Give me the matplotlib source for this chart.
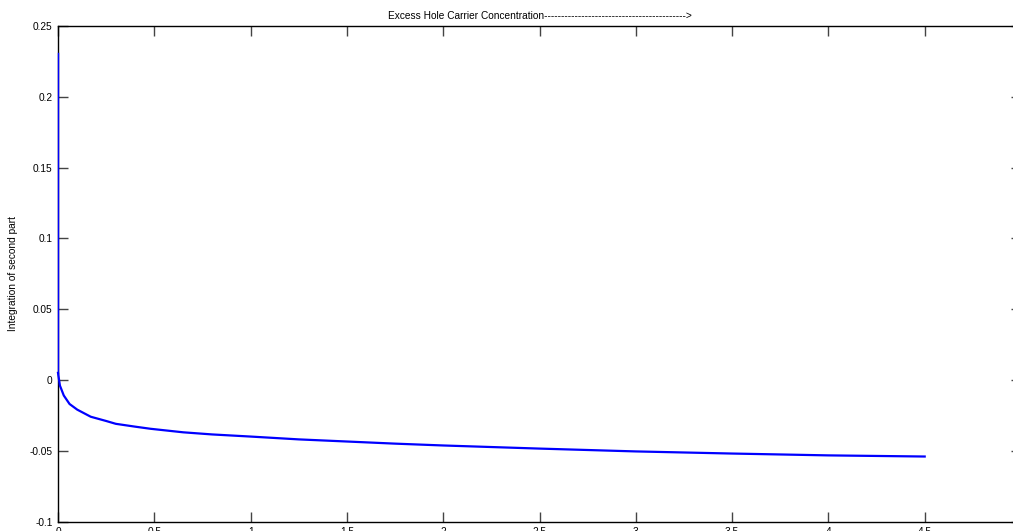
import numpy as np
import matplotlib
matplotlib.use("Agg")
import matplotlib.pyplot as plt

# integrated second-part values along the sample
x_pos = [0.0, 0.0, 0.01, 0.03, 0.06, 0.10, 0.17, 0.25, 0.30, 0.40, 0.48,
         0.65, 0.80, 1.0, 1.25, 1.5, 1.75, 2.0, 2.5, 3.0, 3.5, 4.0, 4.5]
integral = [0.231, 0.005, -0.004, -0.011, -0.017, -0.021, -0.026, -0.029,
            -0.031, -0.033, -0.0345, -0.037, -0.0385, -0.040, -0.042,
            -0.0435, -0.045, -0.0463, -0.0485, -0.0505, -0.052, -0.0533,
            -0.0541]

x_ticks = np.arange(0, 5.01, 0.5)
x_tick_labels = ["0", "0.5", "1", "1.5", "2", "2.5", "3", "3.5", "4", "4.5", "5"]
y_ticks = [-0.1, -0.05, 0, 0.05, 0.1, 0.15, 0.2, 0.25]
y_tick_labels = ["-0.1", "-0.05", "0", "0.05", "0.1", "0.15", "0.2", "0.25"]

plt.rcParams["font.family"] = ["Liberation Sans", "DejaVu Sans"]

W, H = 1013, 531
fig = plt.figure(figsize=(W / 100, H / 100), dpi=100)
left, right, top, bottom = 58, 1021, 26, 521.5
ax = fig.add_axes([left / W, (H - bottom) / H, (right - left) / W, (bottom - top) / H])

# drawn above the spines so the jump at x=0 covers the left axis line;
# the vertical jump renders thinner than the rest of the curve
ax.plot(x_pos[:2], integral[:2], color="#0000ff", lw=1.0, zorder=3, clip_on=False)
ax.plot(x_pos[1:], integral[1:], color="#0000ff", lw=1.6, solid_joinstyle="round",
        zorder=3, clip_on=False)

ax.set_xlim(0, 5)
ax.set_ylim(-0.1, 0.25)
ax.set_xticks(x_ticks)
ax.set_xticklabels(x_tick_labels)
ax.set_yticks(y_ticks)
ax.set_yticklabels(y_tick_labels)
ax.tick_params(direction="in", length=7, width=1, color="#444444",
               labelsize=7.3, top=True, right=True, pad=4)
for sp in ax.spines.values():
    sp.set_linewidth(1.0)
    sp.set_color("black")

ax.set_title("Excess Hole Carrier Concentration"
             "------------------------------------------>",
             fontsize=7.3, pad=5)
ax.set_ylabel("Integration of second part", fontsize=7.3)
ax.yaxis.set_label_coords(-(left - 18) / (right - left), 0.5)

fig.savefig("out.png", dpi=100)
